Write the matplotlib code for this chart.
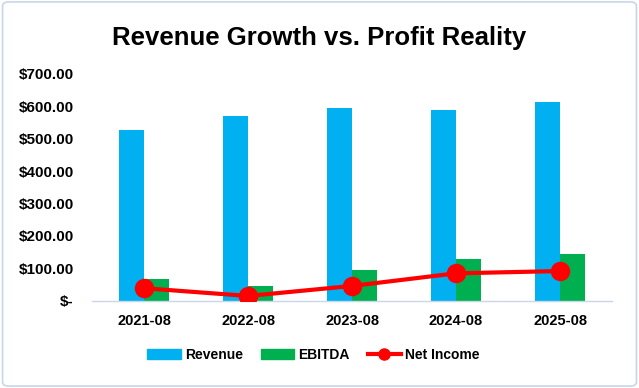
import matplotlib
matplotlib.use("Agg")
import matplotlib.pyplot as plt
import numpy as np
from matplotlib.patches import FancyBboxPatch
from matplotlib.lines import Line2D
from matplotlib.patches import Patch

categories = ["2021-08", "2022-08", "2023-08", "2024-08", "2025-08"]
revenue = [527, 570, 595, 589, 613]
ebitda = [66, 45, 94, 128, 144]
net_income = [38, 14, 45, 84, 91]
yticks = [0, 100, 200, 300, 400, 500, 600, 700]
ytick_labels = ["$-", "$100.00", "$200.00", "$300.00", "$400.00", "$500.00", "$600.00", "$700.00"]

plt.rcParams['font.family'] = ['Liberation Sans', 'DejaVu Sans']

fig = plt.figure(figsize=(6.39, 3.88), dpi=100)
border = FancyBboxPatch((0.004, 0.005), 0.992, 0.99, boxstyle="round,pad=0,rounding_size=0.01",
                        transform=fig.transFigure, facecolor="none", edgecolor="#c9d5e8",
                        linewidth=1.2, zorder=10)
fig.patches.append(border)

W, H = 639, 388
ax = fig.add_axes([92 / W, 1 - 300.5 / H, 520 / W, (300.5 - 74) / H])
ax.set_facecolor("none")

x = np.arange(len(categories))
bw = 0.24
ax.bar(x - bw / 2, revenue, bw, color="#00B0F0", label="Revenue", zorder=2)
ax.bar(x + bw / 2, ebitda, bw, color="#00B050", label="EBITDA", zorder=2)
ax.plot(x, net_income, color="#FF0000", linewidth=3, marker="o", markersize=13,
        label="Net Income", zorder=3)

ax.set_xlim(-0.5, len(categories) - 0.5)
ax.set_ylim(0, 700)
ax.set_yticks(yticks)
ax.set_yticklabels(ytick_labels, fontsize=11, fontweight="bold")
ax.set_xticks(x)
ax.set_xticklabels(categories, fontsize=10.5, fontweight="bold")
ax.tick_params(axis="x", length=0, pad=10)
ax.tick_params(axis="y", length=0, pad=13)
for s in ["top", "right", "left"]:
    ax.spines[s].set_visible(False)
ax.spines["bottom"].set_color("#c9d5e8")
ax.spines["bottom"].set_linewidth(1)

fig.text(0.5, 1 - 38 / H, "Revenue Growth vs. Profit Reality", ha="center", va="center",
         fontsize=18.5, fontweight="bold")

handles = [Patch(color="#00B0F0"), Patch(color="#00B050"),
           Line2D([0], [0], color="#FF0000", linewidth=3, marker="o", markersize=8)]
fig.legend(handles, ["Revenue", "EBITDA", "Net Income"], loc="center",
           bbox_to_anchor=(313.5 / W, 1 - 355 / H), ncol=3, frameon=False,
           prop={"weight": "bold", "size": 10}, handlelength=2.4, handleheight=0.8,
           columnspacing=1.3, handletextpad=0.3)

fig.savefig("out.png", dpi=100)
